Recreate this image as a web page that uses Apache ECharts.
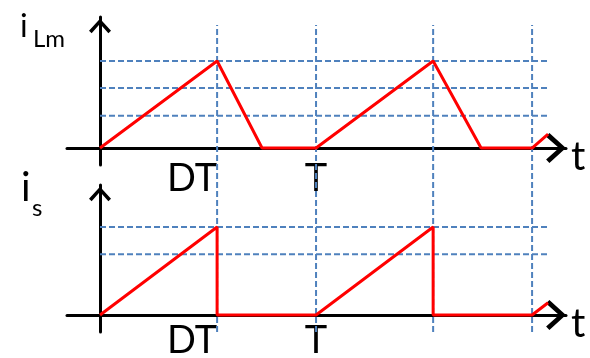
<!DOCTYPE html>
<html>
<head>
<meta charset="UTF-8">
<style>
  html, body { margin: 0; padding: 0; background: #fff; }
  #main { width: 590px; height: 358px; }
</style>
<script src="https://cdn.jsdelivr.net/npm/echarts@6/dist/echarts.min.js"></script>
</head>
<body>
<div id="main"></div>
<script>
// time in units of T, current normalised to the peak
var tLm = [0, 0.542, 0.75, 1, 1.542, 1.764, 2, 2.074];
var iLm = [0, 1, 0, 0, 1, 0, 0, 0.16];
var tS = [0, 0.542, 0.542, 1, 1.542, 1.542, 2, 2.074];
var iS = [0, 1, 0, 0, 1, 0, 0, 0.14];
var levelsLm = [0.37, 0.69, 1];
var levelsS = [0.69, 1];
var levelEnd = 2.083;
var markTimes = [0.542, 1, 1.542, 2];
var tickVals = [0.542, 1];
var tickLabels = ['DT', 'T'];

var FONT = 'Lato';
var RED = '#ff0000';
var BLUE = '#4f81bd';
var chevUp = 'path://M10 0 L20 11 L17.6 13.2 L10 4.6 L2.4 13.2 L0 11 Z';

function pairs(xs, ys) {
    return xs.map(function (x, i) { return [x, ys[i]]; });
}

function xAxisOf(grid, labelMargin) {
    return {
        type: 'value', gridIndex: grid, min: -0.1528, max: 2.157,
        splitLine: { show: false },
        axisTick: { show: false },
        axisLine: {
            onZero: true,
            lineStyle: { color: '#000', width: 3 },
            symbol: ['none', chevUp],
            symbolSize: [30, 21],
            symbolOffset: [0, -10]
        },
        axisLabel: {
            customValues: tickVals,
            margin: labelMargin,
            color: '#000',
            fontFamily: FONT,
            fontSize: 38,
            formatter: function (v) {
                var s = tickLabels[tickVals.indexOf(v)];
                return s === 'DT' ? '{dt|' + s + '}' : s;
            },
            rich: { dt: { fontFamily: FONT, fontSize: 38, color: '#000', padding: [0, 50, 0, 0] } }
        }
    };
}

function yAxisOf(grid, min, max) {
    return {
        type: 'value', gridIndex: grid, min: min, max: max,
        splitLine: { show: false },
        axisTick: { show: false },
        axisLabel: { show: false },
        axisLine: {
            onZero: true,
            lineStyle: { color: '#000', width: 3 },
            symbol: ['none', chevUp],
            symbolSize: [22, 18],
            symbolOffset: [0, -9]
        }
    };
}

function label(text, x, y, size) {
    return { type: 'text', left: x, top: y, style: { text: text, fontSize: size, fontFamily: FONT, fill: '#000' } };
}

var dash = { color: BLUE, width: 2, type: [6, 3] };
var series = [];
// horizontal dashed guides
levelsLm.forEach(function (lv) {
    series.push({ type: 'line', xAxisIndex: 0, yAxisIndex: 0, data: [[0, lv], [levelEnd, lv]],
        symbol: 'none', silent: true, z: 1, lineStyle: dash });
});
levelsS.forEach(function (lv) {
    series.push({ type: 'line', xAxisIndex: 2, yAxisIndex: 2, data: [[0, lv], [levelEnd, lv]],
        symbol: 'none', silent: true, z: 1, lineStyle: dash });
});
// vertical dashed guides spanning both panels
markTimes.forEach(function (t) {
    series.push({ type: 'line', xAxisIndex: 1, yAxisIndex: 1, data: [[t, 0], [t, 1]],
        symbol: 'none', silent: true, z: 1, lineStyle: dash });
});
series.push({ name: 'iLm', type: 'line', xAxisIndex: 0, yAxisIndex: 0, data: pairs(tLm, iLm),
    symbol: 'none', z: 3, lineStyle: { color: RED, width: 3 } });
series.push({ name: 'is', type: 'line', xAxisIndex: 2, yAxisIndex: 2, data: pairs(tS, iS),
    symbol: 'none', z: 3, lineStyle: { color: RED, width: 3 } });

var chart = echarts.init(document.getElementById('main'));
chart.setOption({
    animation: false,
    grid: [
        { left: 67, top: 17, width: 499, height: 148, outerBoundsMode: 'none' },
        { left: 67, top: 25, width: 499, height: 307, outerBoundsMode: 'none' },
        { left: 67, top: 185, width: 499, height: 147, outerBoundsMode: 'none' }
    ],
    xAxis: [
        xAxisOf(0, -5),
        { type: 'value', gridIndex: 1, min: -0.1528, max: 2.157, show: false },
        xAxisOf(2, -10)
    ],
    yAxis: [
        yAxisOf(0, -0.195, 1.506),
        { type: 'value', gridIndex: 1, min: 0, max: 1, show: false },
        yAxisOf(2, -0.193, 1.477)
    ],
    graphic: [
        label('i', 20, 11, 32),
        label('Lm', 33, 27, 24),
        label('i', 21, 168, 40),
        label('s', 32, 196, 24),
        label('t', 571, 137, 40),
        label('t', 571, 304, 40)
    ],
    series: series
});
</script>
</body>
</html>
